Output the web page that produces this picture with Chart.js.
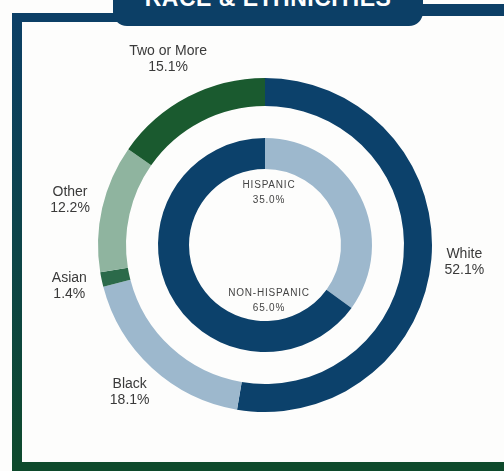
<!DOCTYPE html>
<html>
<head>
<meta charset="utf-8">
<script src="https://cdn.jsdelivr.net/npm/chart.js@4.4.1/dist/chart.umd.min.js"></script>
<style>
  body{margin:0;background:#fdfdfc;font-family:"Liberation Sans",Arial,sans-serif;}
  .wrap{position:relative;width:504px;height:471px;overflow:hidden;background:#fdfdfc;}
  .frame-left{position:absolute;left:12px;top:13px;width:10px;height:458px;background:linear-gradient(#0c3f66,#0e4a2c);}
  .frame-top-l{position:absolute;left:12px;top:13px;width:110px;height:9px;background:#0c3f66;}
  .frame-top-r{position:absolute;left:410px;top:4px;width:94px;height:12px;background:#0c3f66;}
  .frame-bottom{position:absolute;left:12px;top:462px;width:492px;height:9px;background:#0e4a2c;}
  .badge{position:absolute;left:113px;top:-24px;width:310px;height:41px;padding-top:9px;background:#0c3f66;border-radius:14px;
    color:#fff;font-weight:bold;font-size:23px;text-align:center;line-height:26px;letter-spacing:0.5px;}
  canvas{position:absolute;left:0;top:0;}
</style>
</head>
<body>
<div class="wrap">
  <div class="frame-left"></div>
  <div class="frame-top-l"></div>
  <div class="frame-top-r"></div>
  <div class="frame-bottom"></div>
  <div class="badge">RACE &amp; ETHNICITIES</div>
  <canvas id="chart" width="504" height="471"></canvas>
</div>
<script>
// outer ring: race
const raceLabels=['White','Black','Asian','Other','Two or More'];
const raceValues=[52.1,18.1,1.4,12.2,15.1];
const raceColors=['#0c416b','#9db8cd','#2b6a4a','#8fb49f','#1a5a2f'];

// inner ring: ethnicity
const ethLabels=['HISPANIC','NON-HISPANIC'];
const ethValues=[35.0,65.0];
const ethColors=['#9db8cd','#0c416b'];

const ctx=document.getElementById('chart').getContext('2d');

// draws the outside labels for the race ring and the centre labels for the ethnicity ring
const labelPlugin={
  id:'ringLabels',
  afterDatasetsDraw(chart){
    const c=chart.ctx;
    const outer=chart.getDatasetMeta(0);
    c.save();
    c.fillStyle='#3a3a3a';
    c.textAlign='center';
    c.textBaseline='middle';
    c.font='14px "Liberation Sans", Arial, sans-serif';
    outer.data.forEach((arc,i)=>{
      const p=arc.getProps(['x','y','startAngle','endAngle','outerRadius'],true);
      const mid=(p.startAngle+p.endAngle)/2;
      let r=p.outerRadius+33;
      if(i===4) r+=10;
      const x=p.x+Math.cos(mid)*r;
      const y=p.y+Math.sin(mid)*r;
      c.fillText(raceLabels[i],x,y-8);
      c.fillText(raceValues[i].toFixed(1)+'%',x,y+8);
    });
    const inner=chart.getDatasetMeta(2);
    const a=inner.data[0].getProps(['x','y'],true);
    c.font='10px "Liberation Sans", Arial, sans-serif';
    c.letterSpacing='0.8px';
    c.fillStyle='#444';
    const offs=[-53,55];
    ethLabels.forEach((lab,i)=>{
      c.fillText(lab,a.x+4,a.y+offs[i]-7);
      c.fillText(ethValues[i].toFixed(1)+'%',a.x+4,a.y+offs[i]+8);
    });
    c.restore();
  }
};

new Chart(ctx,{
  type:'doughnut',
  data:{
    labels:raceLabels,
    datasets:[
      {data:raceValues,backgroundColor:raceColors,borderWidth:0,weight:28},
      {data:[1],backgroundColor:'rgba(0,0,0,0)',borderWidth:0,weight:32,hoverBackgroundColor:'rgba(0,0,0,0)'},
      {data:ethValues,backgroundColor:ethColors,borderWidth:0,weight:31}
    ]
  },
  options:{
    responsive:false,
    animation:false,
    radius:167,
    cutout:'45.5%',
    layout:{padding:{left:26,right:0,top:19,bottom:0}},
    plugins:{legend:{display:false},tooltip:{enabled:false}}
  },
  plugins:[labelPlugin]
});
</script>
</body>
</html>
